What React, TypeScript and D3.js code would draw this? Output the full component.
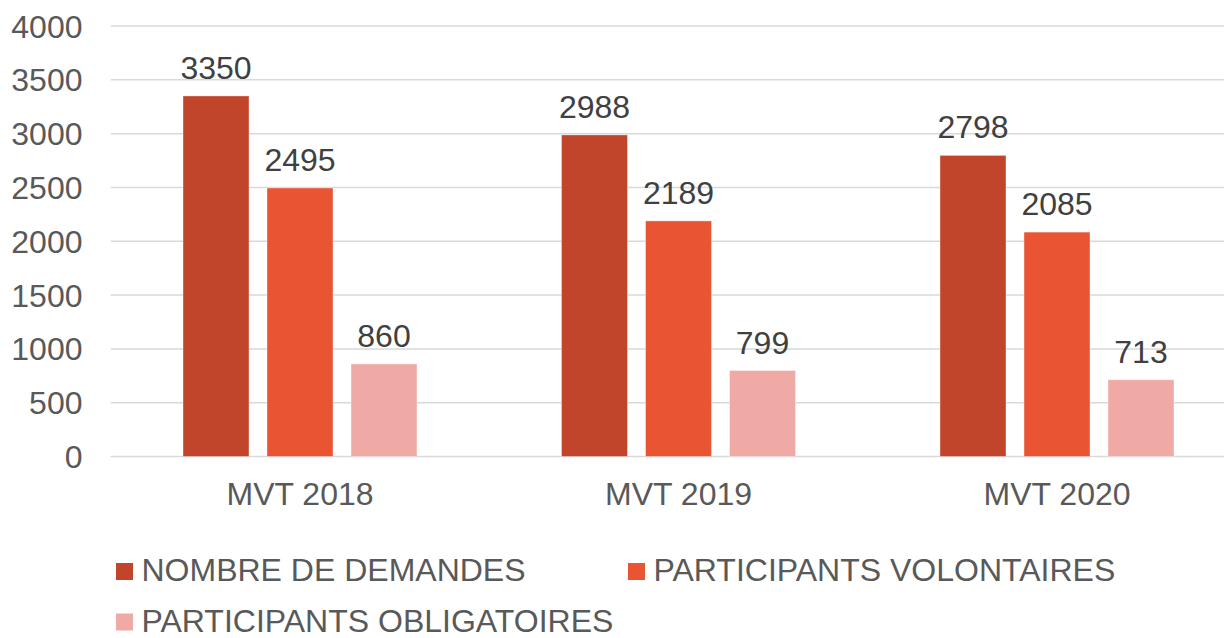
import React, { useEffect, useRef } from 'react';
import * as d3 from 'd3';

const categories = ['MVT 2018', 'MVT 2019', 'MVT 2020'];
const seriesNames = ['NOMBRE DE DEMANDES', 'PARTICIPANTS VOLONTAIRES', 'PARTICIPANTS OBLIGATOIRES'];
const seriesColors = ['#C0452A', '#E95433', '#F0AAA5'];
const demandes = [3350, 2988, 2798];
const volontaires = [2495, 2189, 2085];
const obligatoires = [860, 799, 713];
const yTicks = [0, 500, 1000, 1500, 2000, 2500, 3000, 3500, 4000];

const W = 1224;
const H = 638;
const FONT = "'Liberation Sans', Arial, sans-serif";
const FS = 32;

const App = () => {
  const svgRef = useRef<SVGSVGElement>(null);

  useEffect(() => {
    if (!svgRef.current) return;
    const svg = d3.select(svgRef.current);
    svg.selectAll('*').remove();

    const values = [demandes, volontaires, obligatoires];
    const plotLeft = 110.75;
    const plotRight = 1246.25;

    const y = d3.scaleLinear().domain([0, 4000]).range([456.5, 26]);
    const x0 = d3.scaleBand().domain(categories).range([plotLeft, plotRight]).padding(0);
    const x1 = d3.scaleBand().domain(seriesNames)
      .range([72.25, x0.bandwidth() - 72.25]).paddingInner(18 / 84).paddingOuter(0);

    // gridlines
    svg.append('g').selectAll('line').data(yTicks).join('line')
      .attr('x1', plotLeft).attr('x2', plotRight)
      .attr('y1', d => y(d)).attr('y2', d => y(d))
      .attr('stroke', '#D9D9D9').attr('stroke-width', 1.5);

    // y tick labels
    svg.append('g').selectAll('text').data(yTicks).join('text')
      .attr('x', 82.5).attr('y', d => y(d)).attr('dy', '0.36em')
      .attr('text-anchor', 'end').attr('font-family', FONT).attr('font-size', FS)
      .attr('fill', '#595959').text(d => d);

    // bars
    const groups = svg.append('g').selectAll('g').data(categories).join('g')
      .attr('transform', d => `translate(${x0(d)},0)`);

    groups.each(function (cat, ci) {
      const g = d3.select(this);
      seriesNames.forEach((s, si) => {
        const v = values[si][ci];
        const bx = x1(s)!;
        g.append('rect')
          .attr('x', bx).attr('y', y(v))
          .attr('width', x1.bandwidth()).attr('height', y(0) - y(v))
          .attr('fill', seriesColors[si])
          .attr('stroke', '#FFFFFF').attr('stroke-opacity', 0.5).attr('stroke-width', 0.75);
        g.append('text')
          .attr('x', bx + x1.bandwidth() / 2).attr('y', y(v) - 17)
          .attr('text-anchor', 'middle').attr('font-family', FONT).attr('font-size', FS)
          .attr('fill', '#404040').text(v);
      });
    });

    // category labels
    svg.append('g').selectAll('text').data(categories).join('text')
      .attr('x', d => x0(d)! + x0.bandwidth() / 2).attr('y', 505)
      .attr('text-anchor', 'middle').attr('font-family', FONT).attr('font-size', FS)
      .attr('fill', '#595959').text(d => d);

    // legend
    const legendPos = [
      { x: 116, y: 581 },
      { x: 628, y: 581 },
      { x: 116, y: 631.5 },
    ];
    const legend = svg.append('g').selectAll('g').data(seriesNames).join('g')
      .attr('transform', (d, i) => `translate(${legendPos[i].x},${legendPos[i].y})`);
    legend.append('rect')
      .attr('x', 0).attr('y', -18).attr('width', 17).attr('height', 17)
      .attr('fill', (d, i) => seriesColors[i]);
    legend.append('text')
      .attr('x', 25.5).attr('y', 0)
      .attr('font-family', FONT).attr('font-size', FS)
      .attr('fill', '#595959').text(d => d);
  }, []);

  return (
    <div style={{ position: 'absolute', left: 0, top: 0, width: W, height: H, background: '#fff' }}>
      <svg ref={svgRef} width={W} height={H} style={{ display: 'block' }} />
    </div>
  );
};

export default App;
